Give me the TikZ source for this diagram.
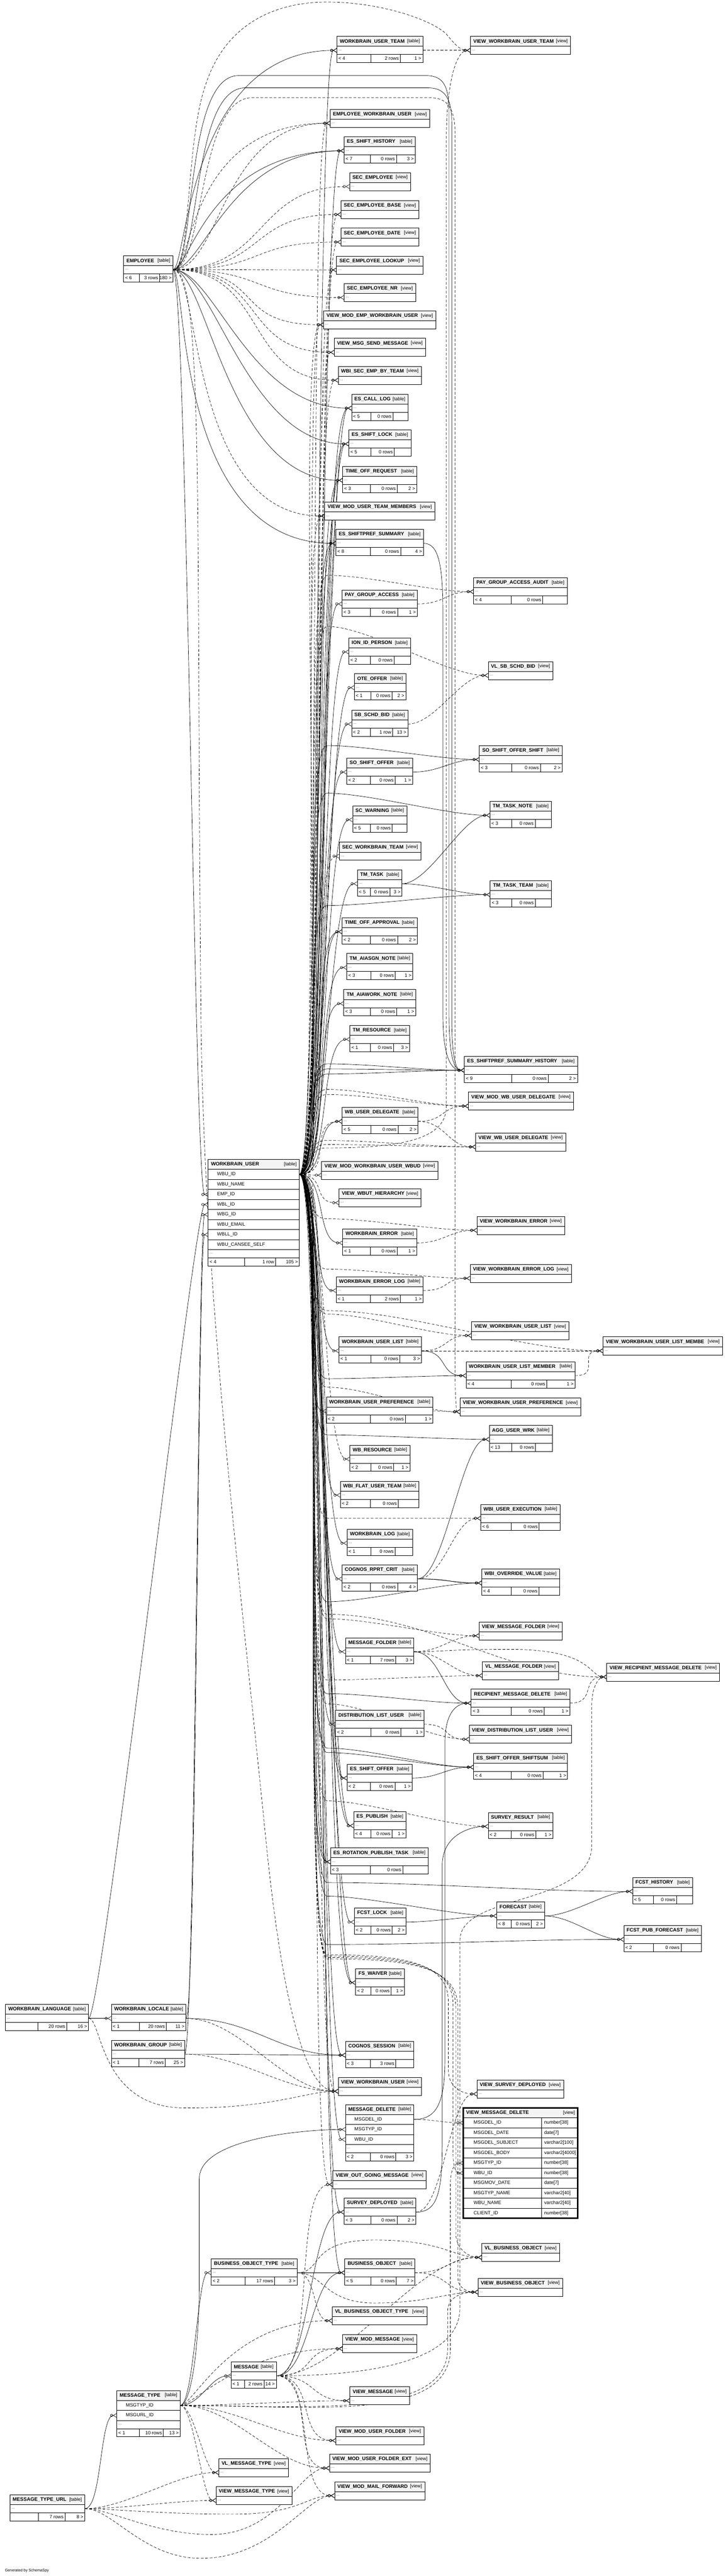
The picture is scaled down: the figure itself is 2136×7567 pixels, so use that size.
\documentclass[tikz,border=0pt]{standalone}
\usepackage{fontspec}
\setmainfont{Liberation Sans}
\usetikzlibrary{arrows.meta,backgrounds}
\definecolor{hdrgray}{HTML}{F4F4F4}
\newcommand\tpx{0.5pt}
\tikzset{
  tbhead/.style={draw,line width=0.55pt,fill=hdrgray,inner sep=0pt,outer sep=0pt,minimum height=29*\tpx},
  tbrow/.style={draw,line width=0.55pt,fill=white,inner sep=0pt,outer sep=0pt,minimum height=24*\tpx},
  tbcol/.style={draw,line width=0.55pt,fill=white,inner sep=0pt,outer sep=0pt,minimum height=29.5*\tpx},
  tbname/.style={font=\fontsize{7.3}{8}\selectfont\bfseries,inner sep=0pt},
  tbkind/.style={font=\fontsize{6.8}{8}\selectfont,inner sep=0pt},
  tbcell/.style={font=\fontsize{7}{8}\selectfont,inner sep=0pt},
  tbdots/.style={font=\fontsize{5}{6}\selectfont,inner sep=0pt},
  fkline/.style={line width=0.5pt,-{Circle[open,length=4pt,width=4pt]Straight Barb[reversed,length=5pt,width=6pt]}},
  implied/.style={dash pattern=on 4pt off 2.5pt},
  wout/.store in=\wireout, win/.store in=\wirein, wout=40pt, win=40pt,
  wdist/.style={wout=#1,win=#1},
  wire/.style={to path={.. controls +(\wireout,0) and +(-\wirein,0) .. (\tikztotarget) \tikztonodes}},
}
% table: id, name, x, y, width, parents, rows, children
\newcommand\tablebox[8]{%
  \node[tbhead,minimum width=#5*\tpx,anchor=north west] (#1-h) at (#3,#4) {};
  \node[tbname,anchor=west] at ([xshift=4pt]#1-h.west) {#2};
  \node[tbkind,anchor=east] at ([xshift=-4pt]#1-h.east) {[table]};
  \node[tbrow,minimum width=#5*\tpx,anchor=north west] (#1) at (#1-h.south west) {};
  \node[tbdots,anchor=west] at ([xshift=2pt]#1.west) {\dots};
  \node[tbrow,minimum width=#5*\tpx,anchor=north west] (#1-f) at (#1.south west) {};
  \draw[line width=0.55pt] (#3+0.5*#5-27,#4+53) -- (#3+0.5*#5-27,#4+77)
    (#3+0.75*#5-3,#4+53) -- (#3+0.75*#5-3,#4+77);
  \node[tbcell,anchor=west] at ([xshift=2pt]#1-f.west) {#6};
  \node[tbcell,anchor=east] at (#3+0.75*#5-7,#4+65) {#7};
  \node[tbcell,anchor=east] at ([xshift=-2pt]#1-f.east) {#8};
}
% view: id, name, x, y, width
\newcommand\viewbox[5]{%
  \node[tbhead,minimum width=#5*\tpx,anchor=north west] (#1-h) at (#3,#4) {};
  \node[tbname,anchor=west] at ([xshift=4pt]#1-h.west) {#2};
  \node[tbkind,anchor=east] at ([xshift=-4pt]#1-h.east) {[view]};
  \node[tbrow,minimum width=#5*\tpx,anchor=north west] (#1) at (#1-h.south west) {};
  \node[tbdots,anchor=west] at ([xshift=2pt]#1.west) {\dots};
}
\newcommand\fkrel[3][]{\draw[fkline] (#2.east) to[wire,#1] (#3.west);}
\newcommand\ikrel[3][]{\draw[fkline,implied] (#2.east) to[wire,#1] (#3.west);}
\newcommand\fkvia[4][]{\draw[fkline] (#2.east) to[wire] (960,#4) to[wire,wdist=60pt,#1] (#3.west);}
\newcommand\ikvia[4][]{\draw[fkline,implied] (#2.east) to[wire] (960,#4) to[wire,wdist=60pt,#1] (#3.west);}
\begin{document}
\begin{tikzpicture}[x=0.5pt,y=-0.5pt]
\useasboundingbox (0,0) rectangle (2136,7567);
% tables and views
\tablebox{emp}{EMPLOYEE}{363}{751}{145}{< 6}{3 rows}{180 >}
\tablebox{wut}{WORKBRAIN\_USER\_TEAM}{989}{107}{252}{< 4}{2 rows}{1 >}
\viewbox{vwut}{VIEW\_WORKBRAIN\_USER\_TEAM}{1381}{107}{294}
\viewbox{ewu}{EMPLOYEE\_WORKBRAIN\_USER}{969}{321}{292}
\tablebox{esh}{ES\_SHIFT\_HISTORY}{1010}{402}{209}{< 7}{0 rows}{3 >}
\viewbox{sece}{SEC\_EMPLOYEE}{1026}{507}{179}
\viewbox{secb}{SEC\_EMPLOYEE\_BASE}{1001}{589}{228}
\viewbox{secd}{SEC\_EMPLOYEE\_DATE}{1001}{670}{228}
\viewbox{secl}{SEC\_EMPLOYEE\_LOOKUP}{988}{752}{253}
\viewbox{secn}{SEC\_EMPLOYEE\_NR}{1010}{833}{210}
\viewbox{vmewu}{VIEW\_MOD\_EMP\_WORKBRAIN\_USER}{950}{913}{329}
\viewbox{vmsm}{VIEW\_MSG\_SEND\_MESSAGE}{981}{994}{268}
\viewbox{wbiset}{WBI\_SEC\_EMP\_BY\_TEAM}{993}{1076}{244}
\tablebox{escl}{ES\_CALL\_LOG}{1032}{1158}{166}{< 5}{0 rows}{}
\tablebox{essl}{ES\_SHIFT\_LOCK}{1024}{1263}{182}{< 5}{0 rows}{}
\tablebox{tor}{TIME\_OFF\_REQUEST}{1006}{1370}{217}{< 3}{0 rows}{2 >}
\viewbox{vmutm}{VIEW\_MOD\_USER\_TEAM\_MEMBERS}{953}{1475}{323}
\tablebox{esps}{ES\_SHIFTPREF\_SUMMARY}{986}{1555}{257}{< 8}{0 rows}{4 >}
\tablebox{pga}{PAY\_GROUP\_ACCESS}{1004}{1733}{221}{< 3}{0 rows}{1 >}
\tablebox{pgaa}{PAY\_GROUP\_ACCESS\_AUDIT}{1390}{1697}{275}{< 4}{0 rows}{}
\tablebox{iip}{ION\_ID\_PERSON}{1024}{1874}{181}{< 2}{0 rows}{}
\tablebox{oteo}{OTE\_OFFER}{1040}{1979}{151}{< 1}{0 rows}{2 >}
\viewbox{vlsb}{VL\_SB\_SCHD\_BID}{1433}{1943}{190}
\tablebox{sbsb}{SB\_SCHD\_BID}{1032}{2086}{165}{< 2}{1 row}{13 >}
\tablebox{soso}{SO\_SHIFT\_OFFER}{1018}{2227}{193}{< 2}{0 rows}{1 >}
\tablebox{soss}{SO\_SHIFT\_OFFER\_SHIFT}{1407}{2190}{243}{< 3}{0 rows}{2 >}
\tablebox{scw}{SC\_WARNING}{1035}{2367}{159}{< 5}{0 rows}{}
\viewbox{secwt}{SEC\_WORKBRAIN\_TEAM}{996}{2474}{239}
\tablebox{tmt}{TM\_TASK}{1049}{2555}{131}{< 5}{0 rows}{3 >}
\tablebox{tmtn}{TM\_TASK\_NOTE}{1438}{2354}{181}{< 3}{0 rows}{}
\tablebox{tmtt}{TM\_TASK\_TEAM}{1439}{2587}{180}{< 3}{0 rows}{}
\tablebox{toa}{TIME\_OFF\_APPROVAL}{1004}{2696}{221}{< 2}{0 rows}{2 >}
\tablebox{tman}{TM\_AIASGN\_NOTE}{1018}{2801}{194}{< 3}{0 rows}{1 >}
\tablebox{tmaw}{TM\_AIAWORK\_NOTE}{1009}{2907}{211}{< 3}{0 rows}{1 >}
\tablebox{tmr}{TM\_RESOURCE}{1027}{3012}{175}{< 1}{0 rows}{3 >}
\tablebox{espsh}{ES\_SHIFTPREF\_SUMMARY\_HISTORY}{1363}{3103}{332}{< 9}{0 rows}{2 >}
\tablebox{wbud}{WB\_USER\_DELEGATE}{1004}{3253}{223}{< 5}{0 rows}{2 >}
\viewbox{vmwbud}{VIEW\_MOD\_WB\_USER\_DELEGATE}{1375}{3208}{308}
\viewbox{vwbud}{VIEW\_WB\_USER\_DELEGATE}{1396}{3328}{264}
\viewbox{vmwuw}{VIEW\_MOD\_WORKBRAIN\_USER\_WBUD}{944}{3411}{341}
\viewbox{vwh}{VIEW\_WBUT\_HIERARCHY}{995}{3492}{241}
\tablebox{wbe}{WORKBRAIN\_ERROR}{1006}{3610}{217}{< 1}{0 rows}{1 >}
\viewbox{vwbe}{VIEW\_WORKBRAIN\_ERROR}{1400}{3573}{257}
\tablebox{wbel}{WORKBRAIN\_ERROR\_LOG}{987}{3750}{255}{< 1}{2 rows}{1 >}
\viewbox{vwbel}{VIEW\_WORKBRAIN\_ERROR\_LOG}{1380}{3714}{297}
\viewbox{vwul}{VIEW\_WORKBRAIN\_USER\_LIST}{1384}{3882}{286}
\tablebox{wul}{WORKBRAIN\_USER\_LIST}{995}{3927}{242}{< 1}{0 rows}{3 >}
\viewbox{vwulm}{VIEW\_WORKBRAIN\_USER\_LIST\_MEMBE}{1770}{3927}{351}
\tablebox{wulm}{WORKBRAIN\_USER\_LIST\_MEMBER}{1368}{4000}{320}{< 4}{0 rows}{1 >}
\tablebox{wup}{WORKBRAIN\_USER\_PREFERENCE}{958}{4104}{313}{< 2}{0 rows}{1 >}
\viewbox{vwup}{VIEW\_WORKBRAIN\_USER\_PREFERENCE}{1350}{4106}{354}
\tablebox{auw}{AGG\_USER\_WRK}{1436}{4187}{185}{< 13}{0 rows}{}
\tablebox{wbr}{WB\_RESOURCE}{1027}{4245}{176}{< 2}{0 rows}{1 >}
\tablebox{wfut}{WBI\_FLAT\_USER\_TEAM}{999}{4351}{231}{< 2}{0 rows}{}
\tablebox{wue}{WBI\_USER\_EXECUTION}{1411}{4419}{233}{< 6}{0 rows}{}
\tablebox{wbl}{WORKBRAIN\_LOG}{1019}{4492}{192}{< 1}{0 rows}{}
\tablebox{crc}{COGNOS\_RPRT\_CRIT}{1004}{4597}{221}{< 2}{0 rows}{4 >}
\tablebox{wov}{WBI\_OVERRIDE\_VALUE}{1414}{4609}{228}{< 4}{0 rows}{}
\viewbox{vmf}{VIEW\_MESSAGE\_FOLDER}{1406}{4764}{244}
\tablebox{mf}{MESSAGE\_FOLDER}{1014}{4811}{201}{< 1}{7 rows}{3 >}
\viewbox{vlmf}{VL\_MESSAGE\_FOLDER}{1416}{4881}{224}
\viewbox{vrmd}{VIEW\_RECIPIENT\_MESSAGE\_DELETE}{1781}{4885}{331}
\tablebox{rmd}{RECIPIENT\_MESSAGE\_DELETE}{1383}{4962}{290}{< 3}{0 rows}{1 >}
\tablebox{dlu}{DISTRIBUTION\_LIST\_USER}{985}{5024}{260}{< 2}{0 rows}{1 >}
\viewbox{vdlu}{VIEW\_DISTRIBUTION\_LIST\_USER}{1377}{5068}{301}
\tablebox{esoss}{ES\_SHIFT\_OFFER\_SHIFTSUM}{1390}{5150}{276}{< 4}{0 rows}{1 >}
\tablebox{eso}{ES\_SHIFT\_OFFER}{1019}{5182}{191}{< 2}{0 rows}{1 >}
\tablebox{esp}{ES\_PUBLISH}{1038}{5322}{154}{< 4}{0 rows}{1 >}
\tablebox{svr}{SURVEY\_RESULT}{1433}{5324}{190}{< 2}{0 rows}{1 >}
\tablebox{esrpt}{ES\_ROTATION\_PUBLISH\_TASK}{970}{5428}{287}{< 3}{0 rows}{}
\tablebox{fch}{FCST\_HISTORY}{1857}{5515}{176}{< 5}{0 rows}{}
\tablebox{fc}{FORECAST}{1458}{5587}{140}{< 8}{0 rows}{2 >}
\tablebox{fcl}{FCST\_LOCK}{1040}{5605}{152}{< 2}{0 rows}{2 >}
\tablebox{fcpf}{FCST\_PUB\_FORECAST}{1831}{5656}{228}{< 2}{0 rows}{}
\tablebox{fsw}{FS\_WAIVER}{1044}{5783}{143}{< 2}{0 rows}{1 >}
\tablebox{wbla}{WORKBRAIN\_LANGUAGE}{16}{5888}{244}{}{20 rows}{16 >}
\tablebox{wblo}{WORKBRAIN\_LOCALE}{327}{5888}{219}{< 1}{20 rows}{11 >}
\tablebox{wbg}{WORKBRAIN\_GROUP}{327}{5993}{215}{< 1}{7 rows}{25 >}
\tablebox{cgs}{COGNOS\_SESSION}{1014}{5996}{201}{< 3}{3 rows}{}
\viewbox{vwu}{VIEW\_WORKBRAIN\_USER}{993}{6102}{244}
\viewbox{vsd}{VIEW\_SURVEY\_DEPLOYED}{1400}{6110}{254}
\viewbox{vogm}{VIEW\_OUT\_GOING\_MESSAGE}{977}{6376}{274}
\tablebox{svd}{SURVEY\_DEPLOYED}{1010}{6457}{211}{< 3}{0 rows}{2 >}
\viewbox{vlbo}{VL\_BUSINESS\_OBJECT}{1414}{6590}{228}
\tablebox{bot}{BUSINESS\_OBJECT\_TYPE}{620}{6635}{252}{< 2}{17 rows}{3 >}
\tablebox{bo}{BUSINESS\_OBJECT}{1012}{6635}{206}{< 5}{0 rows}{7 >}
\viewbox{vbo}{VIEW\_BUSINESS\_OBJECT}{1403}{6692}{248}
\viewbox{vlbot}{VL\_BUSINESS\_OBJECT\_TYPE}{975}{6776}{278}
\viewbox{vmm}{VIEW\_MOD\_MESSAGE}{1005}{6858}{218}
\tablebox{msg}{MESSAGE}{678}{6938}{133}{< 1}{2 rows}{14 >}
\viewbox{vmsg}{VIEW\_MESSAGE}{1027}{7011}{175}
\viewbox{vmuf}{VIEW\_MOD\_USER\_FOLDER}{986}{7128}{258}
\viewbox{vmufe}{VIEW\_MOD\_USER\_FOLDER\_EXT}{967}{7209}{296}
\viewbox{vlmt}{VL\_MESSAGE\_TYPE}{642}{7222}{205}
\viewbox{vmmf}{VIEW\_MOD\_MAIL\_FORWARD}{982}{7290}{265}
\viewbox{vmt}{VIEW\_MESSAGE\_TYPE}{634}{7304}{223}
\tablebox{mtu}{MESSAGE\_TYPE\_URL}{29}{7328}{220}{}{7 rows}{8 >}
% WORKBRAIN_USER with its columns
\node[tbhead,minimum width=268*\tpx,anchor=north west] (wbu-h) at (611,3406) {};
\node[tbname,anchor=west] at ([xshift=4pt]wbu-h.west) {WORKBRAIN\_USER};
\node[tbkind,anchor=east] at ([xshift=-4pt]wbu-h.east) {[table]};
\foreach \cid/\cname [count=\i from 0] in {wbuid/WBU\_ID,wbuname/WBU\_NAME,wbuemp/EMP\_ID,wbuwbl/WBL\_ID,wbuwbg/WBG\_ID,wbumail/WBU\_EMAIL,wbuwbll/WBLL\_ID,wbuself/WBU\_CANSEE\_SELF}{
  \node[tbcol,minimum width=268*\tpx,anchor=north west] (\cid) at (611,3435+29.5*\i) {};
  \node[tbcell,anchor=west] at ([xshift=13pt]\cid.west) {\cname};
}
\node[tbrow,minimum width=268*\tpx,anchor=north west] (wbu) at (611,3671) {};
\node[tbdots,anchor=west] at ([xshift=2pt]wbu.west) {\dots};
\node[tbrow,minimum width=268*\tpx,anchor=north west] (wbu-f) at (611,3695) {};
\draw[line width=0.55pt] (718,3695) -- (718,3719) (809,3695) -- (809,3719);
\node[tbcell,anchor=west] at ([xshift=2pt]wbu-f.west) {< 4};
\node[tbcell,anchor=east] at (805,3707) {1 row};
\node[tbcell,anchor=east] at ([xshift=-2pt]wbu-f.east) {105 >};
% MESSAGE_DELETE
\node[tbhead,minimum width=201*\tpx,anchor=north west] (md-h) at (1014,6182) {};
\node[tbname,anchor=west] at ([xshift=4pt]md-h.west) {MESSAGE\_DELETE};
\node[tbkind,anchor=east] at ([xshift=-4pt]md-h.east) {[table]};
\foreach \cid/\cname [count=\i from 0] in {mddel/MSGDEL\_ID,mdtyp/MSGTYP\_ID,mdwbu/WBU\_ID}{
  \node[tbcol,minimum width=201*\tpx,anchor=north west] (\cid) at (1014,6211+29.5*\i) {};
  \node[tbcell,anchor=west] at ([xshift=13pt]\cid.west) {\cname};
}
\node[tbrow,minimum width=201*\tpx,anchor=north west] (md) at (1014,6299.5) {};
\node[tbdots,anchor=west] at ([xshift=2pt]md.west) {\dots};
\node[tbrow,minimum width=201*\tpx,anchor=north west] (md-f) at (1014,6323.5) {};
\draw[line width=0.55pt] (1087.5,6323.5) -- (1087.5,6347.5) (1161.75,6323.5) -- (1161.75,6347.5);
\node[tbcell,anchor=west] at ([xshift=2pt]md-f.west) {< 2};
\node[tbcell,anchor=east] at (1158,6335.5) {0 rows};
\node[tbcell,anchor=east] at ([xshift=-2pt]md-f.east) {3 >};
% MESSAGE_TYPE
\node[tbhead,minimum width=186*\tpx,anchor=north west] (mt-h) at (343,7022) {};
\node[tbname,anchor=west] at ([xshift=4pt]mt-h.west) {MESSAGE\_TYPE};
\node[tbkind,anchor=east] at ([xshift=-4pt]mt-h.east) {[table]};
\foreach \cid/\cname [count=\i from 0] in {mttyp/MSGTYP\_ID,mturl/MSGURL\_ID}{
  \node[tbcol,minimum width=186*\tpx,anchor=north west] (\cid) at (343,7051+29.5*\i) {};
  \node[tbcell,anchor=west] at ([xshift=13pt]\cid.west) {\cname};
}
\node[tbrow,minimum width=186*\tpx,anchor=north west] (mt) at (343,7110) {};
\node[tbdots,anchor=west] at ([xshift=2pt]mt.west) {\dots};
\node[tbrow,minimum width=186*\tpx,anchor=north west] (mt-f) at (343,7134) {};
\draw[line width=0.55pt] (409,7134) -- (409,7158) (479.5,7134) -- (479.5,7158);
\node[tbcell,anchor=west] at ([xshift=2pt]mt-f.west) {< 1};
\node[tbcell,anchor=east] at (476,7146) {10 rows};
\node[tbcell,anchor=east] at ([xshift=-2pt]mt-f.east) {13 >};
% VIEW_MESSAGE_DELETE with column types
\node[tbhead,minimum width=336*\tpx,anchor=north west] (vmd-h) at (1360,6192) {};
\node[tbname,anchor=west] at ([xshift=4pt]vmd-h.west) {VIEW\_MESSAGE\_DELETE};
\node[tbkind,anchor=east] at ([xshift=-4pt]vmd-h.east) {[view]};
\foreach \cid/\cname/\ctype [count=\i from 0] in {vmddel/MSGDEL\_ID/number[38],vmddate/MSGDEL\_DATE/date[7],vmdsubj/MSGDEL\_SUBJECT/varchar2[100],vmdbody/MSGDEL\_BODY/varchar2[4000],vmdtyp/MSGTYP\_ID/number[38],vmdwbu/WBU\_ID/number[38],vmdmov/MSGMOV\_DATE/date[7],vmdtname/MSGTYP\_NAME/varchar2[40],vmdwname/WBU\_NAME/varchar2[40],vmdclient/CLIENT\_ID/number[38]}{
  \node[tbcol,minimum width=336*\tpx,anchor=north west] (\cid) at (1360,6221+29.5*\i) {};
  \node[tbcell,anchor=west] at ([xshift=15pt]\cid.west) {\cname};
  \node[tbcell,anchor=west] at (1597,6235.75+29.5*\i) {\ctype};
}
\draw[line width=0.55pt] (1590,6221) -- (1590,6516);
\draw[line width=1.8pt] (1360,6192) rectangle (1696,6516);
\node[anchor=south west,font=\fontsize{5.5}{6}\selectfont,inner sep=0pt] (gen) at (14,7556) {Generated by SchemaSpy};
% relationships
\begin{pgfonlayer}{background}
\fill[white] (0,0) rectangle (2136,7567);
% from EMPLOYEE
\fkrel[wout=20pt,win=220pt]{emp}{wut}
\fkrel[wout=25pt,win=200pt]{emp}{esh}
\fkrel[wout=45pt,win=170pt]{emp}{esh}
\ikrel[wout=30pt,win=210pt]{emp}{ewu}
\ikrel[wout=70pt,win=160pt]{emp}{ewu}
\ikrel[wdist=140pt]{emp}{sece}
\ikrel[wdist=140pt]{emp}{secb}
\ikrel[wdist=140pt]{emp}{secd}
\ikrel[wdist=140pt]{emp}{secl}
\ikrel[wdist=140pt]{emp}{secn}
\ikrel[wdist=140pt]{emp}{vmewu}
\ikrel[wdist=140pt]{emp}{vmsm}
\ikrel[wdist=140pt]{emp}{wbiset}
\fkrel[wout=60pt,win=150pt]{emp}{escl}
\fkrel[wout=60pt,win=150pt]{emp}{essl}
\fkrel[wout=50pt,win=170pt]{emp}{tor}
\ikrel[wout=40pt,win=200pt]{emp}{vmutm}
\fkrel[wout=20pt,win=240pt]{emp}{esps}
\fkrel[wdist=20pt]{emp}{wbuemp}
\draw[fkline,implied] (emp.east) .. controls (560,792) and (545,430) .. (600,260) .. controls (660,60) and (820,6) .. (960,6) .. controls (1120,6) and (1270,60) .. (1310,100) .. controls (1335,130) and (1350,148) .. (vwut.west);
\draw[fkline] (emp.east) .. controls (575,792) and (540,222) .. (700,222) -- (1250,222) .. controls (1300,222) and (1318,250) .. (1318,330) -- (1318,2980) .. controls (1318,3110) and (1335,3144) .. (espsh.west);
\draw[fkline] (emp.east) .. controls (590,792) and (560,258) .. (720,258) -- (1255,258) .. controls (1300,258) and (1326,280) .. (1326,360) -- (1326,2990) .. controls (1326,3115) and (1340,3144) .. (espsh.west);
\draw[fkline,implied] (emp.east) .. controls (600,792) and (580,287) .. (740,287) -- (1260,287) .. controls (1310,287) and (1336,310) .. (1336,400) -- (1336,4050) .. controls (1336,4120) and (1342,4147) .. (vwup.west);
\draw[fkline,implied] (emp.east) .. controls (600,792) and (575,1500) .. (590,3000) .. controls (600,3800) and (700,4600) .. (780,5400) .. controls (830,5900) and (900,6143) .. (vwu.west);
% from WORKBRAIN_USER
\fkrel[wdist=30pt]{wbuid}{wut}
\ikrel[wdist=32pt]{wbuid}{ewu}
\fkrel[wdist=34pt]{wbuid}{esh}
\ikrel[wdist=36pt]{wbuid}{secb}
\ikrel[wdist=36pt]{wbuid}{secd}
\ikrel[wdist=38pt]{wbuid}{secl}
\ikrel[wdist=30pt]{wbuid}{vmewu}
\ikrel[wdist=45pt]{wbuid}{vmewu}
\ikrel[wdist=38pt]{wbuid}{vmsm}
\ikrel{wbuid}{wbiset}
\fkrel[wdist=35pt]{wbuid}{escl}
\fkrel[wdist=50pt]{wbuid}{escl}
\fkrel[wdist=35pt]{wbuid}{essl}
\fkrel[wdist=50pt]{wbuid}{essl}
\fkrel[wdist=35pt]{wbuid}{tor}
\fkrel[wdist=50pt]{wbuid}{tor}
\ikrel{wbuid}{vmutm}
\fkrel[wdist=35pt]{wbuid}{esps}
\fkrel[wdist=50pt]{wbuid}{esps}
\fkrel{wbuid}{pga}
\fkrel{wbuid}{iip}
\fkrel[wdist=42pt]{wbuid}{oteo}
\fkrel[wdist=42pt]{wbuid}{sbsb}
\fkrel[wdist=42pt]{wbuid}{soso}
\fkrel[wdist=44pt]{wbuid}{scw}
\ikrel[wdist=44pt]{wbuid}{secwt}
\fkrel[wdist=44pt]{wbuid}{tmt}
\fkrel{wbuid}{toa}
\fkrel[wdist=52pt]{wbuid}{toa}
\fkrel[wdist=46pt]{wbuid}{tman}
\fkrel[wdist=46pt]{wbuid}{tmaw}
\fkrel[wdist=46pt]{wbuid}{tmr}
\fkrel{wbuid}{wbud}
\ikrel[wdist=52pt]{wbuid}{wbud}
\ikrel[wdist=30pt]{wbuid}{vmwuw}
\ikrel{wbuid}{vwh}
\fkrel{wbuid}{wbe}
\fkrel{wbuid}{wbel}
\fkrel{wbuid}{wul}
\fkrel{wbuid}{wup}
\ikrel{wbuid}{wbr}
\fkrel{wbuid}{wfut}
\fkrel{wbuid}{wbl}
\fkrel{wbuid}{crc}
\fkrel{wbuid}{mf}
\fkrel{wbuid}{dlu}
\fkrel[wdist=35pt]{wbuid}{eso}
\fkrel[wdist=50pt]{wbuid}{eso}
\fkrel[wdist=35pt]{wbuid}{esp}
\fkrel[wdist=50pt]{wbuid}{esp}
\fkrel[wdist=30pt]{wbuid}{esrpt}
\fkrel[wdist=42pt]{wbuid}{esrpt}
\fkrel[wdist=54pt]{wbuid}{esrpt}
\fkrel{wbuid}{fcl}
\fkrel[wdist=35pt]{wbuid}{fsw}
\fkrel[wdist=50pt]{wbuid}{fsw}
\fkrel{wbuid}{cgs}
\ikrel{wbuid}{vwu}
\fkrel{wbuid}{mdwbu}
\ikrel{wbuid}{vogm}
\fkrel{wbuid}{svd}
\fkrel{wbuid}{bo}
\ikvia{wbuid}{pgaa}{1690}
\ikvia{wbuid}{vlsb}{1840}
\fkvia{wbuid}{soss}{2190}
\fkvia{wbuid}{tmtn}{2330}
\fkvia{wbuid}{tmtt}{2660}
\fkvia{wbuid}{espsh}{3125}
\fkvia{wbuid}{espsh}{3140}
\fkvia{wbuid}{espsh}{3155}
\ikvia{wbuid}{vmwbud}{3200}
\ikvia{wbuid}{vmwbud}{3215}
\ikvia{wbuid}{vwbud}{3350}
\ikvia{wbuid}{vwbud}{3362}
\ikvia{wbuid}{vwbe}{3580}
\ikvia{wbuid}{vwbel}{3728}
\ikvia{wbuid}{vwul}{3860}
\ikvia[wdist=120pt]{wbuid}{vwulm}{3850}
\fkvia{wbuid}{wulm}{4050}
\ikvia{wbuid}{vwup}{4075}
\fkvia{wbuid}{auw}{4215}
\ikvia{wbuid}{wue}{4460}
\fkvia{wbuid}{wov}{4705}
\ikvia{wbuid}{vmf}{4755}
\ikvia[wdist=150pt]{wbuid}{vrmd}{4742}
\ikvia{wbuid}{vlmf}{4935}
\fkvia{wbuid}{rmd}{4975}
\ikvia{wbuid}{vdlu}{5005}
\fkvia{wbuid}{esoss}{5135}
\fkvia{wbuid}{esoss}{5148}
\ikvia{wbuid}{svr}{5290}
\fkvia[wdist=150pt]{wbuid}{fch}{5530}
\fkvia{wbuid}{fc}{5570}
\fkvia[wdist=150pt]{wbuid}{fcpf}{5712}
\draw[fkline,implied] (wbuid.east) to[wire] (960,3372) .. controls (1200,3372) and (1310,3340) .. (1310,3250) -- (1310,420) .. controls (1310,220) and (1345,148) .. (vwut.west);
\draw[fkline,implied] (wbuid.east) to[wire] (960,5742) .. controls (1200,5742) and (1316,5770) .. (1316,5880) -- (1316,6080) .. controls (1316,6135) and (1360,6151) .. (vsd.west);
\draw[fkline,implied] (wbuid.east) to[wire] (960,5746) .. controls (1210,5746) and (1330,5775) .. (1330,5890) -- (1330,6330) .. controls (1330,6370) and (1340,6383) .. (vmdwbu.west);
\draw[fkline,implied] (wbuid.east) to[wire] (960,5750) .. controls (1220,5750) and (1338,5780) .. (1338,5900) -- (1338,6560) .. controls (1338,6610) and (1380,6631) .. (vlbo.west);
\draw[fkline,implied] (wbuid.east) to[wire] (960,5754) .. controls (1230,5754) and (1344,5785) .. (1344,5900) -- (1344,6690) .. controls (1344,6720) and (1370,6733) .. (vbo.west);
% between other tables
\ikrel{wut}{vwut}
\ikrel{pga}{pgaa}
\ikrel{sbsb}{vlsb}
\fkrel{soso}{soss}
\fkrel{tmt}{tmtn}
\fkrel{tmt}{tmtt}
\draw[fkline] (esps.east) .. controls (1285,1596) and (1300,1650) .. (1300,1800) -- (1300,2980) .. controls (1300,3120) and (1330,3144) .. (espsh.west);
\ikrel{wbud}{vmwbud}
\ikrel{wbud}{vwbud}
\ikrel{wbe}{vwbe}
\ikrel{wbel}{vwbel}
\ikrel{wul}{vwul}
\ikrel[wdist=100pt]{wul}{vwulm}
\fkrel{wul}{wulm}
\ikrel{wulm}{vwulm}
\ikrel[wdist=30pt]{wup}{vwup}
\fkrel{crc}{auw}
\ikrel{crc}{wue}
\fkrel{crc}{wov}
\fkrel[wdist=55pt]{crc}{wov}
\ikrel{mf}{vmf}
\ikrel{mf}{vlmf}
\draw[fkline,implied] (mf.east) .. controls (1300,4852) and (1300,4845) .. (1500,4845) .. controls (1740,4845) and (1730,4926) .. (vrmd.west);
\fkrel{mf}{rmd}
\ikrel{rmd}{vrmd}
\ikrel{dlu}{vdlu}
\fkrel{eso}{esoss}
\draw[fkline] (svd.east) .. controls (1280,6498) and (1298,6450) .. (1298,6300) -- (1298,5480) .. controls (1298,5390) and (1380,5365) .. (svr.west);
\ikrel{svd}{vsd}
\fkrel{fcl}{fc}
\fkrel{fc}{fch}
\fkrel{fc}{fcpf}
\fkrel[wdist=10pt]{wbla}{wblo}
\fkrel[wdist=20pt]{wbla}{wbuwbl}
\draw[fkline,implied] (wbla.east) .. controls (300,5928) and (290,6190) .. (540,6192) .. controls (800,6194) and (900,6143) .. (vwu.west);
\fkrel[wdist=100pt]{wblo}{cgs}
\fkrel[wdist=15pt]{wblo}{wbuwbll}
\ikrel[wdist=80pt]{wblo}{vwu}
\fkrel[wdist=100pt]{wbg}{cgs}
\fkrel[wdist=15pt]{wbg}{wbuwbg}
\ikrel[wdist=80pt]{wbg}{vwu}
\ikrel[wdist=30pt]{mddel}{vmddel}
\draw[fkline] (mddel.east) .. controls (1280,6226) and (1306,6180) .. (1306,6050) -- (1306,5120) .. controls (1306,5030) and (1340,5003) .. (rmd.west);
\draw[fkline] (mttyp.east) .. controls (560,7066) and (585,6900) .. (585,6700) -- (585,6400) .. controls (585,6280) and (900,6255) .. (mdtyp.west);
\fkrel[wdist=20pt]{mttyp}{bot}
\fkrel[wdist=30pt]{mttyp}{msg}
\ikrel[wout=20pt,win=150pt]{mttyp}{vlbot}
\ikrel[wout=20pt,win=150pt]{mttyp}{vmm}
\ikrel[wdist=80pt]{mttyp}{vmsg}
\ikrel[wdist=80pt]{mttyp}{vmuf}
\ikrel[wdist=80pt]{mttyp}{vmufe}
\ikrel[wdist=20pt]{mttyp}{vlmt}
\ikrel[wdist=20pt]{mttyp}{vmt}
\draw[fkline,implied] (mttyp.east) .. controls (900,7066) and (1322,7120) .. (1322,6900) -- (1322,6420) .. controls (1322,6370) and (1335,6354) .. (vmdtyp.west);
\draw[fkline,implied] (mttyp.east) .. controls (880,7066) and (1314,7110) .. (1314,6900) -- (1314,6790) .. controls (1314,6745) and (1360,6733) .. (vbo.west);
\fkrel[wdist=50pt]{msg}{bo}
\fkrel[wdist=50pt]{msg}{svd}
\ikrel[wdist=60pt]{msg}{vogm}
\ikrel[wdist=60pt]{msg}{vmm}
\ikrel[wdist=60pt]{msg}{vmsg}
\ikrel[wdist=60pt]{msg}{vmuf}
\ikrel[wdist=60pt]{msg}{vmufe}
\ikrel[wdist=60pt]{msg}{vmmf}
\ikrel[wdist=100pt]{msg}{vlbo}
\draw[fkline,implied] (msg.east) .. controls (1000,6979) and (1350,6960) .. (1350,6780) -- (1350,5700) .. controls (1350,5560) and (1737,5600) .. (1737,5420) -- (1737,5010) .. controls (1737,4950) and (1760,4926) .. (vrmd.west);
\fkrel[wdist=30pt]{bot}{bo}
\draw[fkline,implied] (bot.east) .. controls (950,6676) and (900,6580) .. (1100,6580) .. controls (1300,6580) and (1330,6631) .. (vlbo.west);
\draw[fkline,implied] (bot.east) .. controls (950,6676) and (950,6765) .. (1100,6765) .. controls (1250,6765) and (1320,6733) .. (vbo.west);
\ikrel[wdist=30pt]{bot}{vlbot}
\ikrel[wdist=50pt]{bo}{vlbo}
\ikrel[wdist=50pt]{bo}{vbo}
\fkrel[wdist=25pt]{mtu}{mturl}
\ikrel[wdist=60pt]{mtu}{vlmt}
\ikrel[wdist=60pt]{mtu}{vmt}
\draw[fkline,implied] (mtu.east) .. controls (330,7369) and (420,7515) .. (590,7515) .. controls (800,7515) and (900,7331) .. (vmmf.west);
\draw[fkline,implied] (mtu.east) .. controls (320,7369) and (450,7445) .. (620,7445) .. controls (820,7445) and (880,7250) .. (vmufe.west);
\draw[fkline,implied] (mtu.east) .. controls (320,7369) and (500,7387) .. (700,7385) .. controls (880,7383) and (900,7331) .. (vmmf.west);
\end{pgfonlayer}
\end{tikzpicture}
\end{document}
